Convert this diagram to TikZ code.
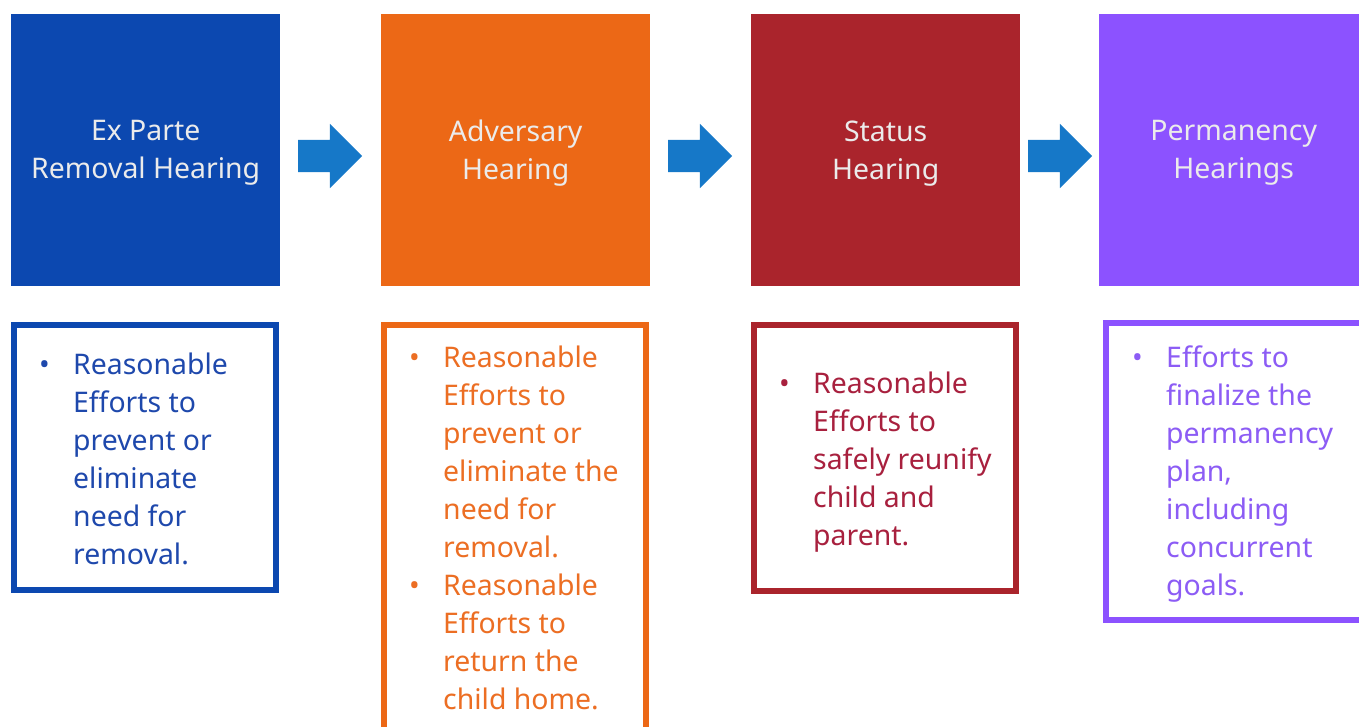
\documentclass[tikz,border=0pt]{standalone}
\usepackage{fontspec}
\setmainfont{Noto Sans}
\usetikzlibrary{shapes.arrows}

\definecolor{exblue}{RGB}{12,72,176}
\definecolor{advorange}{RGB}{236,104,22}
\definecolor{statred}{RGB}{170,36,44}
\definecolor{permpurple}{RGB}{140,82,255}
\definecolor{flowblue}{RGB}{22,120,200}
\definecolor{extext}{RGB}{30,72,172}
\definecolor{advtext}{RGB}{236,110,35}
\definecolor{stattext}{RGB}{168,32,62}
\definecolor{permtext}{RGB}{140,92,245}

\tikzset{
 headbox/.style={rectangle,anchor=north west,minimum width=269pt,minimum height=272pt,
   inner sep=0pt},
 headtitle/.style={align=center,inner sep=0pt,yshift=-3pt,text=white!92!black,
   font=\fontsize{28.4}{38}\selectfont},
 effortbox/.style={rectangle,draw=#1,line width=6pt,fill=white,anchor=north west,
   minimum width=262pt,inner sep=0pt},
 efforttext/.style={anchor=base west,inner sep=0pt,text=#1,font=\fontsize{28.4}{38}\selectfont},
 flowarrow/.style={single arrow,fill=flowblue,draw=none,minimum height=64pt,
   inner sep=16pt,single arrow head extend=16pt}
}
\newcommand{\bulletcol}{\begin{tabular}[t]{@{}p{34pt}@{}l@{}}}

\begin{document}
\begin{tikzpicture}[x=1pt,y=-1pt]
 \useasboundingbox (0,0) rectangle (1359,726);
 % top row: the hearings
 \node[headbox,fill=exblue] (exparte) at (11,14) {};
 \node[headbox,fill=advorange] (adversary) at (381,14) {};
 \node[headbox,fill=statred] (status) at (751,14) {};
 \node[headbox,fill=permpurple] (permanency) at (1099,14) {};
 \node[headtitle] (exlabel) at (exparte.center) {Ex Parte\\Removal Hearing};
 \node[headtitle] (advlabel) at (adversary.center) {Adversary\\Hearing};
 \node[headtitle] (statlabel) at (status.center) {Status\\Hearing};
 \node[headtitle] (permlabel) at (permanency.center) {Permanency\\Hearings};
 % arrows between the hearings
 \node[flowarrow] (arrowA) at (322,156) {};
 \node[flowarrow] (arrowB) at (692,156) {};
 \node[flowarrow] (arrowC) at (1052,156) {};
 % bottom row: the efforts
 \node[effortbox=exblue,minimum height=265pt] (exeffort) at (11,322) {};
 \node[effortbox=advorange,minimum height=420pt] (adveffort) at (381,322) {};
 \node[effortbox=statred,minimum height=266pt] (stateffort) at (751,322) {};
 \node[effortbox=permpurple,minimum height=297pt] (permeffort) at (1103,320) {};
 \node[efforttext=extext] (extxt) at (39,374) {\bulletcol
   \textbullet & Reasonable\\ & Efforts to\\ & prevent or\\ & eliminate\\
   & need for\\ & removal.\end{tabular}};
 \node[efforttext=advtext] (advtxt) at (409,367) {\bulletcol
   \textbullet & Reasonable\\ & Efforts to\\ & prevent or\\ & eliminate the\\
   & need for\\ & removal.\\
   \textbullet & Reasonable\\ & Efforts to\\ & return the\\ & child home.\end{tabular}};
 \node[efforttext=stattext] (stattxt) at (779,393) {\bulletcol
   \textbullet & Reasonable\\ & Efforts to\\ & safely reunify\\ & child and\\
   & parent.\end{tabular}};
 \node[efforttext=permtext] (permtxt) at (1132,367) {\bulletcol
   \textbullet & Efforts to\\ & finalize the\\ & permanency\\ & plan,\\
   & including\\ & concurrent\\ & goals.\end{tabular}};
\end{tikzpicture}
\end{document}
